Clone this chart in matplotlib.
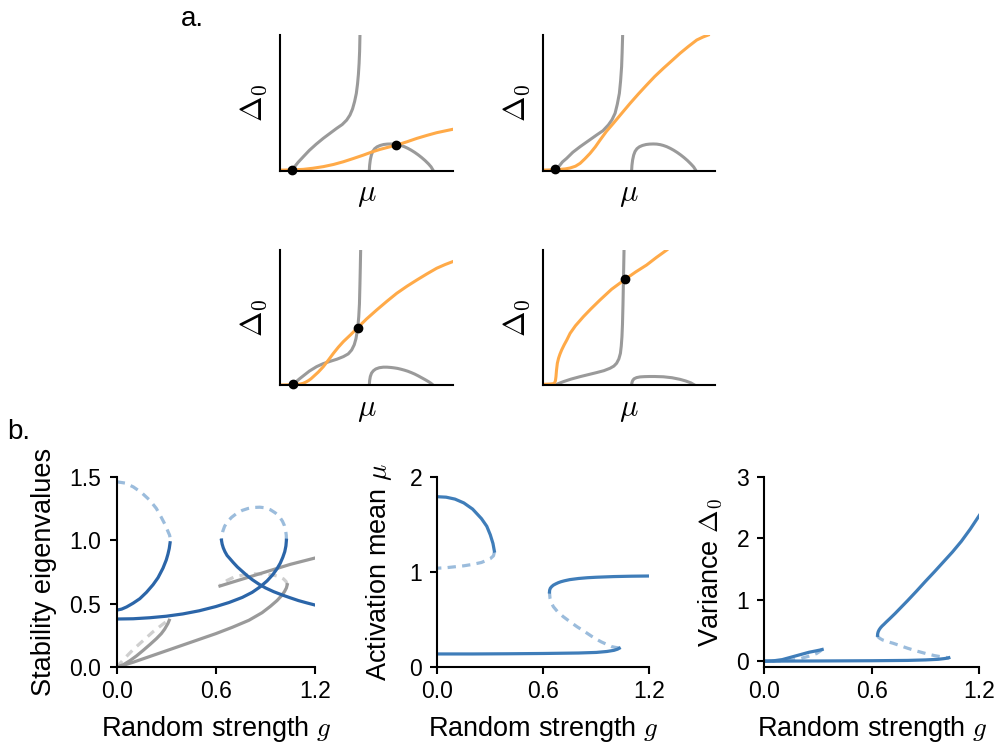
import numpy as np
import matplotlib
matplotlib.use("Agg")
import matplotlib.pyplot as plt

plt.rcParams['font.family'] = ['Liberation Sans', 'DejaVu Sans']
plt.rcParams['mathtext.fontset'] = 'cm'
plt.rcParams['lines.scale_dashes'] = False

# colours
c_blue = '#2b65a8'
c_blue2 = '#3f7db9'
c_blue_u = '#9bbcdc'
c_gray = '#9a9a9a'
c_gray_u = '#cfcfcf'
c_orange = '#ffaa48'
dash = (0, (6, 4.5))

# ---- a. graphical solution of mean-field equations (normalised mu, Delta0) ----
# each panel: gray nullcline (left), gray hump, orange nullcline, fixed points
a_gray1_mu = [
    [0.068, 0.085, 0.105, 0.135, 0.17, 0.21, 0.25, 0.29, 0.328, 0.36, 0.386, 0.405, 0.42, 0.432,
     0.442, 0.449, 0.454, 0.458, 0.461, 0.463],
    [0.077, 0.095, 0.115, 0.139, 0.175, 0.217, 0.265, 0.313, 0.35, 0.381, 0.402, 0.42, 0.433, 0.445,
     0.452, 0.458, 0.461, 0.464],
    [0.073, 0.09, 0.11, 0.135, 0.17, 0.212, 0.25, 0.29, 0.33, 0.367, 0.395, 0.415, 0.43, 0.44,
     0.447, 0.452, 0.456, 0.46, 0.463, 0.465, 0.467],
    [0.072, 0.09, 0.12, 0.165, 0.217, 0.265, 0.313, 0.355, 0.391, 0.413, 0.429, 0.442, 0.451, 0.456,
     0.46, 0.463, 0.466, 0.469, 0.472],
]
a_gray1_d = [
    [0.0, 0.03, 0.062, 0.103, 0.15, 0.196, 0.238, 0.276, 0.312, 0.34, 0.373, 0.41, 0.455, 0.51,
     0.57, 0.64, 0.71, 0.79, 0.88, 1.0],
    [0.0, 0.033, 0.065, 0.091, 0.136, 0.177, 0.22, 0.263, 0.295, 0.337, 0.375, 0.423, 0.49, 0.57,
     0.66, 0.767, 0.87, 1.0],
    [0.0, 0.022, 0.045, 0.07, 0.105, 0.138, 0.16, 0.177, 0.193, 0.212, 0.232, 0.261, 0.3, 0.345,
     0.4, 0.45, 0.507, 0.6, 0.754, 0.87, 1.0],
    [0.0, 0.012, 0.027, 0.046, 0.064, 0.079, 0.094, 0.108, 0.126, 0.142, 0.163, 0.195, 0.236, 0.29,
     0.36, 0.45, 0.6, 0.8, 1.0],
]
a_gray2_mu = [
    [0.517, 0.519, 0.523, 0.529, 0.537, 0.548, 0.562, 0.58, 0.6, 0.62, 0.64, 0.66, 0.68, 0.7,
     0.72, 0.74, 0.76, 0.78, 0.8, 0.82, 0.84, 0.86, 0.875, 0.888],
    [0.516, 0.518, 0.522, 0.528, 0.536, 0.547, 0.561, 0.579, 0.6, 0.62, 0.642, 0.662, 0.682, 0.7,
     0.72, 0.74, 0.76, 0.78, 0.8, 0.82, 0.84, 0.86, 0.876, 0.89],
    [0.517, 0.519, 0.523, 0.53, 0.541, 0.555, 0.575, 0.598, 0.62, 0.64, 0.66, 0.68, 0.7, 0.72,
     0.74, 0.76, 0.78, 0.8, 0.82, 0.84, 0.86, 0.875, 0.888],
    [0.516, 0.518, 0.522, 0.53, 0.545, 0.565, 0.59, 0.62, 0.65, 0.7, 0.75, 0.797, 0.83, 0.86, 0.884],
]
a_gray2_d = [
    [0.0, 0.04, 0.08, 0.115, 0.142, 0.162, 0.176, 0.186, 0.193, 0.196, 0.197, 0.196, 0.192, 0.186,
     0.177, 0.165, 0.151, 0.135, 0.117, 0.097, 0.075, 0.05, 0.028, 0.0],
    [0.0, 0.04, 0.08, 0.115, 0.142, 0.162, 0.176, 0.186, 0.193, 0.196, 0.197, 0.196, 0.192, 0.186,
     0.177, 0.165, 0.151, 0.135, 0.117, 0.097, 0.075, 0.05, 0.028, 0.0],
    [0.0, 0.035, 0.065, 0.09, 0.108, 0.121, 0.13, 0.134, 0.134, 0.132, 0.129, 0.125, 0.119, 0.112,
     0.104, 0.094, 0.083, 0.07, 0.056, 0.042, 0.027, 0.014, 0.0],
    [0.0, 0.02, 0.035, 0.048, 0.057, 0.062, 0.064, 0.065, 0.065, 0.063, 0.056, 0.044, 0.032, 0.018, 0.0],
]
a_orange_mu = [
    [0.0, 0.07, 0.135, 0.19, 0.251, 0.31, 0.367, 0.425, 0.483, 0.53, 0.579, 0.63, 0.676, 0.735,
     0.792, 0.85, 0.907, 0.955, 1.0],
    [0.0, 0.05, 0.1, 0.13, 0.159, 0.19, 0.217, 0.245, 0.275, 0.305, 0.333, 0.37, 0.41, 0.46,
     0.507, 0.555, 0.603, 0.65, 0.7, 0.75, 0.797, 0.845, 0.894, 0.93, 0.961],
    [0.0, 0.06, 0.097, 0.12, 0.135, 0.15, 0.165, 0.18, 0.193, 0.222, 0.251, 0.28, 0.309, 0.338,
     0.367, 0.41, 0.45, 0.5, 0.56, 0.62, 0.676, 0.735, 0.792, 0.85, 0.907, 0.955, 1.0],
    [0.0, 0.04, 0.062, 0.07, 0.074, 0.077, 0.08, 0.085, 0.092, 0.1, 0.11, 0.125, 0.14, 0.159,
     0.19, 0.236, 0.28, 0.333, 0.4, 0.478, 0.54, 0.603, 0.66, 0.72],
]
a_orange_d = [
    [0.004, 0.006, 0.01, 0.018, 0.03, 0.046, 0.066, 0.09, 0.115, 0.137, 0.157, 0.174, 0.189, 0.213,
     0.238, 0.26, 0.28, 0.293, 0.305],
    [0.004, 0.006, 0.01, 0.013, 0.02, 0.033, 0.054, 0.088, 0.128, 0.175, 0.226, 0.29, 0.349, 0.425,
     0.496, 0.565, 0.631, 0.694, 0.754, 0.811, 0.865, 0.915, 0.963, 0.985, 1.0],
    [0.002, 0.004, 0.007, 0.01, 0.015, 0.024, 0.035, 0.049, 0.064, 0.098, 0.138, 0.186, 0.236, 0.282,
     0.323, 0.375, 0.426, 0.489, 0.557, 0.622, 0.68, 0.732, 0.778, 0.823, 0.865, 0.892, 0.914],
    [0.007, 0.009, 0.012, 0.02, 0.035, 0.064, 0.11, 0.163, 0.2, 0.23, 0.261, 0.3, 0.335, 0.384,
     0.44, 0.507, 0.565, 0.631, 0.71, 0.783, 0.838, 0.889, 0.945, 1.0],
]
a_fp_mu = [[0.071, 0.672], [0.074], [0.073, 0.450], [0.478]]
a_fp_d = [[0.008, 0.187], [0.012], [0.010, 0.426], [0.783]]

# ---- b. bifurcation diagrams vs random strength g ----
# stability eigenvalues
ev_a_g = [0.0, 0.03, 0.06, 0.10, 0.14, 0.18, 0.22, 0.25, 0.28, 0.30, 0.31, 0.318, 0.323]
ev_a = [0.45, 0.458, 0.475, 0.505, 0.54, 0.59, 0.65, 0.705, 0.78, 0.845, 0.89, 0.935, 0.98]
ev_a_u_g = [0.0, 0.05, 0.10, 0.15, 0.20, 0.24, 0.27, 0.29, 0.31, 0.32, 0.323]
ev_a_u = [1.46, 1.45, 1.42, 1.375, 1.315, 1.25, 1.18, 1.13, 1.07, 1.04, 1.02]
ev_b_g = [0.0, 0.1, 0.2, 0.3, 0.4, 0.5, 0.6, 0.68, 0.76, 0.82, 0.87, 0.91, 0.945, 0.97, 0.99,
          1.005, 1.017, 1.024, 1.027]
ev_b = [0.38, 0.382, 0.39, 0.402, 0.42, 0.445, 0.478, 0.51, 0.55, 0.59, 0.635, 0.68, 0.73, 0.775,
        0.82, 0.865, 0.91, 0.955, 1.0]
ev_loop_g = [1.027, 1.026, 1.022, 1.015, 1.003, 0.985, 0.96, 0.93, 0.9, 0.866, 0.83, 0.795, 0.76,
             0.725, 0.695, 0.67, 0.653, 0.642, 0.636, 0.634]
ev_loop = [1.0, 1.04, 1.08, 1.115, 1.15, 1.185, 1.215, 1.24, 1.255, 1.26, 1.258, 1.25, 1.235,
           1.21, 1.18, 1.145, 1.11, 1.07, 1.035, 1.0]
ev_c_g = [0.634, 0.638, 0.645, 0.655, 0.668, 0.685, 0.705, 0.73, 0.76, 0.786, 0.82, 0.86, 0.9,
          0.95, 1.0, 1.05, 1.1, 1.15, 1.2]
ev_c = [1.0, 0.97, 0.94, 0.91, 0.88, 0.855, 0.825, 0.79, 0.755, 0.725, 0.69, 0.655, 0.625, 0.595,
        0.57, 0.547, 0.525, 0.507, 0.49]
ev_s1_g = [0.0, 0.04, 0.08, 0.12, 0.16, 0.20, 0.24, 0.27, 0.29, 0.31, 0.318]
ev_s1 = [0.0, 0.02, 0.052, 0.09, 0.133, 0.178, 0.225, 0.265, 0.30, 0.345, 0.37]
ev_s1_u_g = [0.0, 0.04, 0.10, 0.16, 0.22, 0.26, 0.29, 0.31, 0.318]
ev_s1_u = [0.0, 0.06, 0.14, 0.21, 0.28, 0.32, 0.35, 0.365, 0.37]
ev_s2_g = [0.0, 0.1, 0.2, 0.3, 0.4, 0.5, 0.6, 0.7, 0.8, 0.88, 0.93, 0.97, 0.995, 1.015, 1.027, 1.032]
ev_s2 = [0.0, 0.04, 0.085, 0.13, 0.175, 0.22, 0.265, 0.315, 0.37, 0.43, 0.48, 0.525, 0.56, 0.595,
         0.625, 0.65]
ev_s2_u_g = [1.032, 1.025, 1.01, 0.98, 0.95, 0.89, 0.83, 0.77, 0.71, 0.67, 0.625]
ev_s2_u = [0.65, 0.675, 0.695, 0.715, 0.725, 0.735, 0.735, 0.728, 0.71, 0.685, 0.645]
ev_s3_g = [0.625, 0.75, 0.9, 1.05, 1.2]
ev_s3 = [0.64, 0.69, 0.75, 0.81, 0.86]

# activation mean mu
mu_hi_g = [0.0, 0.05, 0.10, 0.15, 0.20, 0.25, 0.28, 0.30, 0.315, 0.323]
mu_hi = [1.79, 1.785, 1.765, 1.725, 1.66, 1.56, 1.48, 1.39, 1.30, 1.22]
mu_hi_u_g = [0.323, 0.318, 0.30, 0.25, 0.20, 0.15, 0.10, 0.05, 0.0]
mu_hi_u = [1.21, 1.17, 1.14, 1.10, 1.08, 1.065, 1.055, 1.045, 1.04]
mu_lo_g = [0.0, 0.2, 0.4, 0.6, 0.8, 0.9, 0.96, 1.0, 1.02, 1.03]
mu_lo = [0.14, 0.14, 0.142, 0.145, 0.15, 0.156, 0.166, 0.178, 0.19, 0.2]
mu_mid_u_g = [1.03, 1.022, 1.005, 0.987, 0.96, 0.93, 0.9, 0.87, 0.83, 0.79, 0.75, 0.713, 0.68,
              0.657, 0.645, 0.638, 0.635]
mu_mid_u = [0.2, 0.205, 0.21, 0.217, 0.24, 0.265, 0.295, 0.33, 0.38, 0.427, 0.48, 0.531, 0.585,
            0.636, 0.68, 0.724, 0.79]
mu_up_g = [0.635, 0.636, 0.64, 0.647, 0.657, 0.67, 0.685, 0.7, 0.72, 0.75, 0.8, 0.85, 0.9, 1.0,
           1.1, 1.2]
mu_up = [0.79, 0.81, 0.83, 0.846, 0.862, 0.875, 0.888, 0.898, 0.908, 0.92, 0.932, 0.94, 0.945,
         0.952, 0.956, 0.958]

# variance Delta0
var_lo_g = [0.0, 0.3, 0.6, 0.8, 0.9, 0.97, 1.0, 1.025, 1.03]
var_lo = [0.0, 0.003, 0.007, 0.012, 0.02, 0.03, 0.04, 0.05, 0.055]
var_sm_g = [0.0, 0.05, 0.10, 0.15, 0.20, 0.25, 0.29, 0.31, 0.323]
var_sm = [0.0, 0.005, 0.025, 0.065, 0.105, 0.145, 0.168, 0.18, 0.19]
var_sm_u_g = [0.323, 0.31, 0.292, 0.265, 0.236, 0.205, 0.18, 0.15, 0.10, 0.05, 0.0]
var_sm_u = [0.19, 0.16, 0.125, 0.095, 0.07, 0.045, 0.027, 0.015, 0.006, 0.002, 0.0]
var_hi_g = [0.632, 0.633, 0.636, 0.641, 0.648, 0.657, 0.668, 0.68, 0.70, 0.73, 0.76, 0.8, 0.85,
            0.9, 0.95, 1.0, 1.05, 1.1, 1.15, 1.2]
var_hi = [0.42, 0.45, 0.48, 0.51, 0.54, 0.57, 0.6, 0.635, 0.69, 0.775, 0.865, 0.985, 1.14, 1.3,
          1.455, 1.615, 1.775, 1.95, 2.15, 2.37]
var_mid_u_g = [0.632, 0.635, 0.645, 0.66, 0.69, 0.72, 0.76, 0.8, 0.85, 0.9, 0.95, 1.0, 1.03]
var_mid_u = [0.42, 0.395, 0.37, 0.345, 0.315, 0.29, 0.25, 0.21, 0.165, 0.125, 0.09, 0.065, 0.055]

W, H = 998, 748
fig = plt.figure(figsize=(W / 100, H / 100), dpi=100)


def px_axes(x0, x1, y_top, y_bot):
    return fig.add_axes([x0 / W, 1 - y_bot / H, (x1 - x0) / W, (y_bot - y_top) / H])


def style(ax):
    for s in ['top', 'right']:
        ax.spines[s].set_visible(False)
    for s in ['left', 'bottom']:
        ax.spines[s].set_linewidth(1.5)


# top panels
a_boxes = [(280, 452.7, 35, 170.7), (542.7, 715, 35, 170.7),
           (280, 452.7, 250, 385.3), (542.7, 715, 250, 385.3)]
for i, box in enumerate(a_boxes):
    ax = px_axes(*box)
    style(ax)
    ax.plot(a_gray1_mu[i], a_gray1_d[i], color=c_gray, lw=2.2, solid_capstyle='butt')
    ax.plot(a_gray2_mu[i], a_gray2_d[i], color=c_gray, lw=2.2, solid_capstyle='butt')
    ax.plot(a_orange_mu[i], a_orange_d[i], color=c_orange, lw=2.2)
    ax.plot(a_fp_mu[i], a_fp_d[i], 'o', color='k', ms=6, clip_on=False, zorder=5)
    ax.set_xlim(0, 1)
    ax.set_ylim(0, 1)
    ax.set_xticks([])
    ax.set_yticks([])
    ax.set_xlabel(r'$\mu$', fontsize=22, labelpad=6)
    ax.set_ylabel(r'$\Delta_0$', fontsize=22, labelpad=8)

fig.text(181 / W, 1 - 26 / H, 'a.', fontsize=20)
fig.text(7 / W, 1 - 439 / H, 'b.', fontsize=20)

# bottom panels
b1 = px_axes(116.7, 315, 476.7, 667.3)
b2 = px_axes(437.3, 649.3, 476.7, 667.3)
b3 = px_axes(764.3, 979.3, 476.7, 667.3)

lw = 2.3
b1.plot(ev_s1_u_g, ev_s1_u, color=c_gray_u, lw=lw, ls=dash)
b1.plot(ev_s2_u_g, ev_s2_u, color=c_gray_u, lw=lw, ls=dash)
b1.plot(ev_s1_g, ev_s1, color=c_gray, lw=lw)
b1.plot(ev_s2_g, ev_s2, color=c_gray, lw=lw)
b1.plot(ev_s3_g, ev_s3, color=c_gray, lw=lw)
b1.plot(ev_a_u_g, ev_a_u, color=c_blue_u, lw=lw, ls=dash)
b1.plot(ev_loop_g, ev_loop, color=c_blue_u, lw=lw, ls=dash)
b1.plot(ev_a_g, ev_a, color=c_blue, lw=lw)
b1.plot(ev_b_g, ev_b, color=c_blue, lw=lw)
b1.plot(ev_c_g, ev_c, color=c_blue, lw=lw)
b1.set_ylim(0, 1.5)
b1.set_yticks([0, 0.5, 1.0, 1.5])
b1.set_yticklabels(['0.0', '0.5', '1.0', '1.5'])
b1.set_ylabel('Stability eigenvalues', fontsize=19.5, labelpad=9)

b2.plot(mu_hi_u_g, mu_hi_u, color=c_blue_u, lw=lw, ls=dash)
b2.plot(mu_mid_u_g, mu_mid_u, color=c_blue_u, lw=lw, ls=dash)
b2.plot(mu_hi_g, mu_hi, color=c_blue2, lw=lw)
b2.plot(mu_lo_g, mu_lo, color=c_blue2, lw=lw)
b2.plot(mu_up_g, mu_up, color=c_blue2, lw=lw)
b2.set_ylim(0, 2)
b2.set_yticks([0, 1, 2])
b2.set_ylabel(r'Activation mean $\mu$', fontsize=19.5, labelpad=11)

b3.plot(var_sm_u_g, var_sm_u, color=c_blue_u, lw=lw, ls=dash)
b3.plot(var_mid_u_g, var_mid_u, color=c_blue_u, lw=lw, ls=dash)
b3.plot(var_lo_g, var_lo, color=c_blue2, lw=lw)
b3.plot(var_sm_g, var_sm, color=c_blue2, lw=lw)
b3.plot(var_hi_g, var_hi, color=c_blue2, lw=lw)
b3.set_ylim(-0.1, 3)
b3.set_yticks([0, 1, 2, 3])
b3.set_ylabel(r'Variance $\Delta_0$', fontsize=19.5, labelpad=9)

for ax in (b1, b2, b3):
    style(ax)
    ax.set_xlim(0, 1.2)
    ax.set_xticks([0, 0.6, 1.2])
    ax.set_xticklabels(['0.0', '0.6', '1.2'])
    ax.tick_params(labelsize=16.5, length=5, width=1.5, pad=4)
    ax.tick_params(axis='y', pad=6)
    ax.set_xlabel(r'Random strength $g$', fontsize=19.5, labelpad=8)

fig.savefig('out.png', dpi=100)
